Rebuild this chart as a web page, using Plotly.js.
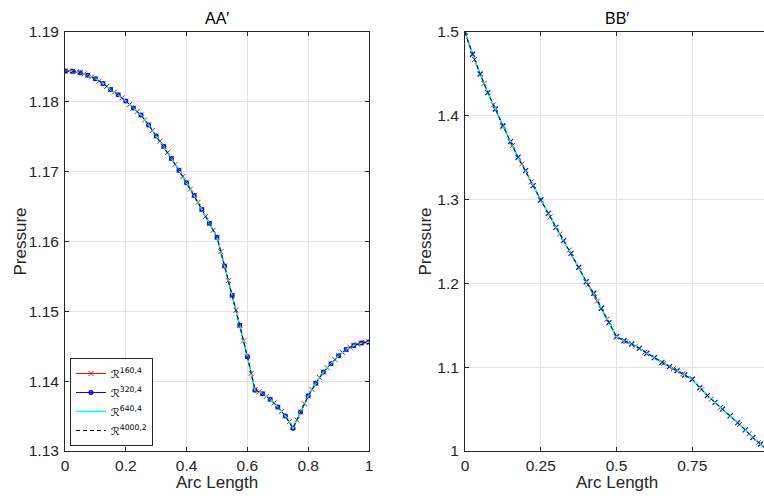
<!DOCTYPE html>
<html>
<head>
<meta charset="utf-8">
<script src="https://cdn.plot.ly/plotly-3.0.1.min.js"></script>
<style>
html,body{margin:0;padding:0;overflow:hidden;background:#fff;}
#chart{width:768px;height:496px;}
</style>
</head>
<body>
<div id="chart"></div>
<script>
// ---------- Left panel (AA') ----------
const xLeftFine = [0,0.0125,0.025,0.0375,0.05,0.0625,0.075,0.0875,0.1,0.1125,0.125,0.1375,0.15,0.1625,0.175,0.1875,0.2,0.2125,0.225,0.2375,0.25,0.2625,0.275,0.2875,0.3,0.3125,0.325,0.3375,0.35,0.3625,0.375,0.3875,0.4,0.4125,0.425,0.4375,0.45,0.4625,0.475,0.4875,0.5,0.5125,0.525,0.5375,0.55,0.5625,0.575,0.5875,0.6,0.6125,0.625,0.6375,0.65,0.6625,0.675,0.6875,0.7,0.7125,0.725,0.7375,0.75,0.7625,0.775,0.7875,0.8,0.8125,0.825,0.8375,0.85,0.8625,0.875,0.8875,0.9,0.9125,0.925,0.9375,0.95,0.9625,0.975,0.9875,1];
const pLeft160 = [1.18440,1.18441,1.18438,1.18430,1.18418,1.18400,1.18380,1.18356,1.18330,1.18297,1.18262,1.18221,1.18178,1.18140,1.18100,1.18057,1.18012,1.17962,1.17910,1.17862,1.17810,1.17742,1.17670,1.17592,1.17510,1.17436,1.17360,1.17276,1.17190,1.17106,1.17020,1.16930,1.16840,1.16751,1.16660,1.16561,1.16460,1.16361,1.16260,1.16161,1.16060,1.15855,1.15650,1.15440,1.15230,1.15015,1.14800,1.14576,1.14350,1.14110,1.13880,1.13845,1.13820,1.13782,1.13740,1.13688,1.13630,1.13568,1.13500,1.13418,1.13340,1.13445,1.13560,1.13677,1.13790,1.13882,1.13970,1.14052,1.14130,1.14192,1.14250,1.14310,1.14365,1.14412,1.14455,1.14485,1.14510,1.14530,1.14545,1.14555,1.14562];
const xLeftCoarse = [0,0.025,0.05,0.075,0.1,0.125,0.15,0.175,0.2,0.225,0.25,0.275,0.3,0.325,0.35,0.375,0.4,0.425,0.45,0.475,0.5,0.525,0.55,0.575,0.6,0.625,0.65,0.675,0.7,0.725,0.75,0.775,0.8,0.825,0.85,0.875,0.9,0.925,0.95,0.975,1];
const pLeft320 = [1.18440,1.18438,1.18418,1.18380,1.18330,1.18262,1.18178,1.18100,1.18012,1.17910,1.17810,1.17670,1.17510,1.17360,1.17190,1.17020,1.16840,1.16660,1.16460,1.16260,1.16060,1.15650,1.15230,1.14800,1.14350,1.13870,1.13820,1.13740,1.13630,1.13500,1.13325,1.13560,1.13790,1.13970,1.14130,1.14250,1.14365,1.14455,1.14510,1.14545,1.14562];
const pLeft640 = [1.18440,1.18438,1.18419,1.18381,1.18331,1.18263,1.18179,1.18100,1.18012,1.17911,1.17810,1.17671,1.17511,1.17360,1.17190,1.17021,1.16840,1.16660,1.16461,1.16261,1.16062,1.15648,1.15229,1.14799,1.14348,1.13872,1.13821,1.13740,1.13630,1.13501,1.13328,1.13560,1.13790,1.13970,1.14130,1.14250,1.14365,1.14455,1.14510,1.14545,1.14562];
const pLeft4000 = [1.18440,1.18438,1.18419,1.18381,1.18331,1.18263,1.18179,1.18100,1.18012,1.17911,1.17810,1.17671,1.17511,1.17360,1.17190,1.17021,1.16840,1.16660,1.16461,1.16261,1.16063,1.15648,1.15229,1.14799,1.14348,1.13875,1.13821,1.13740,1.13630,1.13501,1.13326,1.13560,1.13790,1.13970,1.14130,1.14250,1.14365,1.14455,1.14510,1.14545,1.14562];

// ---------- Right panel (BB') ----------
const xRight160 = [0,0.03125,0.0625,0.09375,0.125,0.15625,0.1875,0.21875,0.25,0.28125,0.3125,0.34375,0.375,0.40625,0.4375,0.46875,0.5,0.53125,0.5625,0.59375,0.625,0.65625,0.6875,0.71875,0.75,0.78125,0.8125,0.84375,0.875,0.90625,0.9375,0.96875,1];
const pRight160 = [1.5000,1.4672,1.4385,1.4130,1.3878,1.3644,1.3425,1.3211,1.2995,1.2794,1.2590,1.2397,1.2192,1.1985,1.1790,1.1574,1.1364,1.1306,1.1251,1.1181,1.1114,1.1045,1.0982,1.0920,1.0856,1.0732,1.0620,1.0520,1.0420,1.0317,1.0206,1.0103,1.0004];
const xRight = [0,0.025,0.05,0.075,0.1,0.125,0.15,0.175,0.2,0.225,0.25,0.275,0.3,0.325,0.35,0.375,0.4,0.425,0.45,0.475,0.5,0.525,0.55,0.575,0.6,0.625,0.65,0.675,0.7,0.725,0.75,0.775,0.8,0.825,0.85,0.875,0.9,0.925,0.95,0.975,1];
const pRight320 = [1.5000,1.4734,1.4499,1.4276,1.4081,1.3878,1.3691,1.3505,1.3345,1.3166,1.2995,1.2836,1.2669,1.2510,1.2359,1.2192,1.2020,1.1882,1.1703,1.1531,1.1364,1.1316,1.1277,1.1225,1.1166,1.1114,1.1058,1.1006,1.0958,1.0907,1.0856,1.0755,1.0660,1.0580,1.0500,1.0420,1.0338,1.0252,1.0160,1.0084,1.0004];
const pRight640 = [1.5000,1.4735,1.4500,1.4277,1.4081,1.3879,1.3691,1.3505,1.3344,1.3166,1.2995,1.2836,1.2669,1.2510,1.2359,1.2192,1.2020,1.1881,1.1703,1.1531,1.1365,1.1316,1.1277,1.1225,1.1166,1.1114,1.1058,1.1006,1.0958,1.0907,1.0856,1.0755,1.0660,1.0580,1.0500,1.0420,1.0338,1.0252,1.0160,1.0084,1.0004];
const pRight4000 = pRight640;

const leftYTicks = [1.13,1.14,1.15,1.16,1.17,1.18,1.19];
const leftYLabels = ['1.13','1.14','1.15','1.16','1.17','1.18','1.19'];
const leftXTicks = [0,0.2,0.4,0.6,0.8,1];
const leftXLabels = ['0','0.2','0.4','0.6','0.8','1'];
const rightYTicks = [1,1.1,1.2,1.3,1.4,1.5];
const rightYLabels = ['1','1.1','1.2','1.3','1.4','1.5'];
const rightXTicks = [0,0.25,0.5,0.75];
const rightXLabels = ['0','0.25','0.5','0.75'];

const seriesNames = ['ℛ<sup>160,4</sup>','ℛ<sup>320,4</sup>','ℛ<sup>640,4</sup>','ℛ<sup>4000,2</sup>'];

const RED='#ff0000', BLUE='#0000ff', CYAN='#00ffff', BLACK='#000000';

const traces = [
  {x:xLeftFine, y:pLeft160, xaxis:'x', yaxis:'y', mode:'lines+markers', name:seriesNames[0],
   line:{color:RED,width:1}, marker:{symbol:'x-thin-open',size:5,line:{color:RED,width:1}}},
  {x:xLeftCoarse, y:pLeft320, xaxis:'x', yaxis:'y', mode:'lines+markers', name:seriesNames[1],
   line:{color:BLUE,width:1}, marker:{symbol:'circle-open',size:3.5,line:{color:BLUE,width:1.5}}},
  {x:xLeftCoarse, y:pLeft640, xaxis:'x', yaxis:'y', mode:'lines', name:seriesNames[2],
   line:{color:CYAN,width:1.5}},
  {x:xLeftCoarse, y:pLeft4000, xaxis:'x', yaxis:'y', mode:'lines', name:seriesNames[3],
   line:{color:BLACK,width:1,dash:'4px,3px'}},

  {x:xRight160, y:pRight160, xaxis:'x2', yaxis:'y2', mode:'lines+markers', showlegend:false,
   line:{color:RED,width:1}, marker:{symbol:'x-thin-open',size:5,line:{color:RED,width:1}}},
  {x:xRight, y:pRight320, xaxis:'x2', yaxis:'y2', mode:'lines+markers', showlegend:false,
   line:{color:BLUE,width:1}, marker:{symbol:'x-thin-open',size:5,line:{color:BLUE,width:1.2}}},
  {x:xRight, y:pRight640, xaxis:'x2', yaxis:'y2', mode:'lines', showlegend:false,
   line:{color:CYAN,width:1.5}},
  {x:xRight, y:pRight4000, xaxis:'x2', yaxis:'y2', mode:'lines', showlegend:false,
   line:{color:BLACK,width:1,dash:'4px,3px'}}
];

const axisCommon = {
  showline:true, linecolor:'#262626', linewidth:1, mirror:'ticks',
  ticks:'inside', ticklen:4, tickcolor:'#262626', tickwidth:1,
  showgrid:true, gridcolor:'#e3e3e3', gridwidth:1, zeroline:false,
  tickmode:'array', tickfont:{family:'Liberation Sans, Arial, sans-serif', size:15.5, color:'#262626'},
  ticklabelstandoff:0
};

const FONT = 'Liberation Sans, Arial, sans-serif';
const layout = {
  width:768, height:496,
  margin:{l:0,r:0,t:32,b:45},
  paper_bgcolor:'#ffffff', plot_bgcolor:'#ffffff',
  showlegend:true,
  xaxis:Object.assign({}, axisCommon, {domain:[65/768, 369/768], range:[0,1], tickvals:leftXTicks, ticktext:leftXLabels, anchor:'y'}),
  yaxis:Object.assign({}, axisCommon, {domain:[0,1], range:[1.13,1.19], tickvals:leftYTicks, ticktext:leftYLabels, anchor:'x', ticklabelstandoff:2}),
  xaxis2:Object.assign({}, axisCommon, {domain:[465/768, 1], range:[0,1], tickvals:rightXTicks, ticktext:rightXLabels, anchor:'y2'}),
  yaxis2:Object.assign({}, axisCommon, {domain:[0,1], range:[1.0,1.5], tickvals:rightYTicks, ticktext:rightYLabels, anchor:'x2', ticklabelstandoff:2}),
  legend:{x:70/768, y:0.012, xanchor:'left', yanchor:'bottom', bgcolor:'#ffffff',
    bordercolor:'#262626', borderwidth:1, itemwidth:30, tracegroupgap:0,
    font:{family:'DejaVu Sans, sans-serif', size:11, color:'#000'}},
  annotations:[
    {text:'AA′', xref:'paper', yref:'paper', x:217/768, y:1, yshift:14, showarrow:false, xanchor:'center', yanchor:'middle', font:{family:FONT,size:16,color:'#000'}},
    {text:'BB′', xref:'paper', yref:'paper', x:616.5/768, y:1, yshift:14, showarrow:false, xanchor:'center', yanchor:'middle', font:{family:FONT,size:16,color:'#000'}},
    {text:'Arc Length', xref:'paper', yref:'paper', x:217/768, y:0, yshift:-31, showarrow:false, xanchor:'center', yanchor:'middle', font:{family:FONT,size:17,color:'#262626'}},
    {text:'Arc Length', xref:'paper', yref:'paper', x:616.5/768, y:0, yshift:-31, showarrow:false, xanchor:'center', yanchor:'middle', font:{family:FONT,size:17,color:'#262626'}},
    {text:'Pressure', xref:'paper', yref:'paper', x:20/768, y:0.5, showarrow:false, textangle:-90, xanchor:'center', yanchor:'middle', font:{family:FONT,size:17,color:'#262626'}},
    {text:'Pressure', xref:'paper', yref:'paper', x:425/768, y:0.5, showarrow:false, textangle:-90, xanchor:'center', yanchor:'middle', font:{family:FONT,size:17,color:'#262626'}}
  ]
};

Plotly.newPlot('chart', traces, layout, {displayModeBar:false, staticPlot:true});
</script>
</body>
</html>
